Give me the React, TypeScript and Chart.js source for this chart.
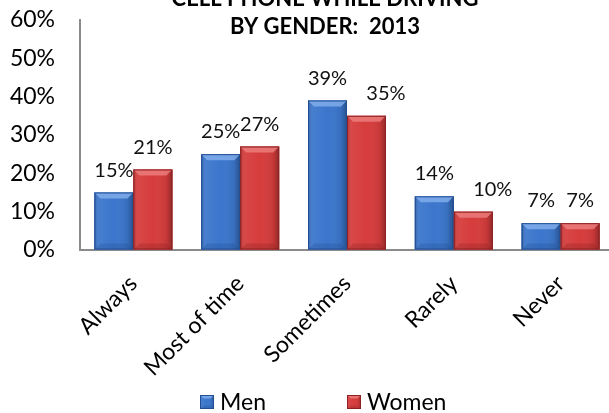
import React, { useEffect, useRef } from 'react';
import { Chart, registerables } from 'chart.js';

Chart.register(...registerables);

const categories = ['Always', 'Most of time', 'Sometimes', 'Rarely', 'Never'];
const menValues = [15, 25, 39, 14, 7];
const womenValues = [21, 27, 35, 10, 7];
const yTickValues = [0, 10, 20, 30, 40, 50, 60];
const seriesNames = ['Men', 'Women'];
const titleLines = ['CELL PHONE WHILE DRIVING', 'BY GENDER:  2013'];

const FONT = 'Lato, "Open Sans", sans-serif';

type Pal = { base: string; light: string; dark: string };
const palettes: Pal[] = [
  { base: '#3b76cc', light: '#84b0ee', dark: '#244f92' },
  { base: '#d63c3c', light: '#ee8080', dark: '#8c2222' },
];

function drawBevel(ctx: CanvasRenderingContext2D, x0: number, x1: number, top: number, bottom: number, pal: Pal) {
  const w = x1 - x0;
  const h = bottom - top;
  if (h <= 0) return;
  ctx.save();
  ctx.fillStyle = pal.base;
  ctx.fillRect(x0, top, w, h);
  const g = ctx.createLinearGradient(x0, 0, x1, 0);
  g.addColorStop(0, 'rgba(0,0,0,0.2)');
  g.addColorStop(0.12, 'rgba(255,255,255,0.06)');
  g.addColorStop(0.5, 'rgba(255,255,255,0)');
  g.addColorStop(0.85, 'rgba(0,0,0,0.08)');
  g.addColorStop(1, 'rgba(0,0,0,0.32)');
  ctx.fillStyle = g;
  ctx.fillRect(x0, top, w, h);
  const b = Math.min(6, h / 2, w / 4);
  ctx.beginPath();
  ctx.moveTo(x0, top);
  ctx.lineTo(x1, top);
  ctx.lineTo(x1 - b, top + b);
  ctx.lineTo(x0 + b, top + b);
  ctx.closePath();
  ctx.fillStyle = pal.light;
  ctx.globalAlpha = 0.8;
  ctx.fill();
  ctx.beginPath();
  ctx.moveTo(x0, bottom);
  ctx.lineTo(x1, bottom);
  ctx.lineTo(x1 - b, bottom - b);
  ctx.lineTo(x0 + b, bottom - b);
  ctx.closePath();
  ctx.fillStyle = pal.dark;
  ctx.globalAlpha = 0.3;
  ctx.fill();
  ctx.globalAlpha = 1;
  ctx.strokeStyle = pal.dark;
  ctx.lineWidth = 1;
  ctx.strokeRect(x0 + 0.5, top + 0.5, w - 1, h - 1);
  ctx.restore();
}

const barStylePlugin = {
  id: 'barStyle',
  afterDatasetsDraw(chart: any) {
    const ctx: CanvasRenderingContext2D = chart.ctx;
    chart.data.datasets.forEach((ds: any, di: number) => {
      const meta = chart.getDatasetMeta(di);
      meta.data.forEach((el: any) => {
        const { x, y, base, width } = el.getProps(['x', 'y', 'base', 'width'], true);
        drawBevel(ctx, x - width / 2, x + width / 2, y, base, palettes[di]);
      });
    });
    ctx.save();
    ctx.font = `20px ${FONT}`;
    ctx.fillStyle = '#111';
    ctx.textAlign = 'center';
    ctx.textBaseline = 'alphabetic';
    chart.data.datasets.forEach((ds: any, di: number) => {
      const meta = chart.getDatasetMeta(di);
      meta.data.forEach((el: any, i: number) => {
        const { x, y, width } = el.getProps(['x', 'y', 'width'], true);
        let shift = 0;
        if (di === 1 && womenValues[i] < menValues[i]) shift = width / 2;
        ctx.fillText(ds.data[i] + '%', x + shift, y - 16);
      });
    });
    ctx.restore();
  },
};

const titleLegendPlugin = {
  id: 'titleLegend',
  afterDraw(chart: any) {
    const ctx: CanvasRenderingContext2D = chart.ctx;
    ctx.save();
    ctx.font = `bold 22px ${FONT}`;
    ctx.fillStyle = '#000';
    ctx.textAlign = 'center';
    ctx.textBaseline = 'alphabetic';
    const cx = 325;
    ctx.fillText(titleLines[0], cx, 6);
    ctx.fillText(titleLines[1], cx, 34);
    ctx.font = `23px ${FONT}`;
    ctx.textAlign = 'left';
    const starts = [200, 347];
    chart.data.datasets.forEach((ds: any, di: number) => {
      const bx = starts[di];
      drawBevel(ctx, bx, bx + 14, 395, 409, palettes[di]);
      ctx.fillStyle = '#000';
      ctx.fillText(ds.label, bx + 20, 410);
    });
    ctx.restore();
  },
};

export default function App() {
  const ref = useRef<HTMLCanvasElement>(null);
  useEffect(() => {
    let chart: Chart | null = null;
    let cancelled = false;
    const make = () => {
      if (cancelled || !ref.current) return;
      chart = new Chart(ref.current, {
        type: 'bar',
        data: {
          labels: categories,
          datasets: [
            { label: seriesNames[0], data: menValues, backgroundColor: palettes[0].base, borderWidth: 0 },
            { label: seriesNames[1], data: womenValues, backgroundColor: palettes[1].base, borderWidth: 0 },
          ],
        },
        options: {
          responsive: false,
          animation: false,
          events: [],
          layout: { padding: { top: 20, left: 0, right: 0, bottom: 0 } },
          datasets: { bar: { categoryPercentage: 0.73, barPercentage: 1.0 } },
          plugins: {
            legend: { display: false },
            title: { display: false },
            tooltip: { enabled: false },
          },
          scales: {
            x: {
              grid: { display: true, drawOnChartArea: false, drawTicks: false },
              border: { display: true, color: '#8a8a8a', width: 2 },
              ticks: {
                font: { family: FONT, size: 23 },
                color: '#000',
                maxRotation: 45,
                minRotation: 45,
                autoSkip: false,
                padding: 20,
              },
              afterFit: (s: any) => {
                s.height = 163;
              },
            },
            y: {
              min: 0,
              max: 60,
              grid: { display: true, drawOnChartArea: false, drawTicks: false },
              border: { display: true, color: '#8a8a8a', width: 2 },
              ticks: {
                font: { family: FONT, size: 23 },
                color: '#000',
                padding: 25,
                callback: (v: any) => v + '%',
              },
              afterBuildTicks: (s: any) => {
                s.ticks = yTickValues.map((v) => ({ value: v }));
              },
              afterFit: (s: any) => {
                s.width = 80;
                s.paddingTop = 0;
                s.paddingBottom = 0;
              },
            },
          },
        } as any,
        plugins: [barStylePlugin, titleLegendPlugin],
      });
    };
    const fontsReady = (document as any).fonts
      ? Promise.all([
          (document as any).fonts.load(`20px Lato`),
          (document as any).fonts.load(`bold 20px Lato`),
        ]).catch(() => null)
      : Promise.resolve(null);
    fontsReady.then(make);
    return () => {
      cancelled = true;
      if (chart) chart.destroy();
    };
  }, []);
  return (
    <div style={{ position: 'absolute', left: 0, top: 0, width: 609, height: 413, overflow: 'hidden', background: '#fff' }}>
      <canvas ref={ref} width={614} height={413} style={{ display: 'block', width: 614, height: 413 }} />
    </div>
  );
}
